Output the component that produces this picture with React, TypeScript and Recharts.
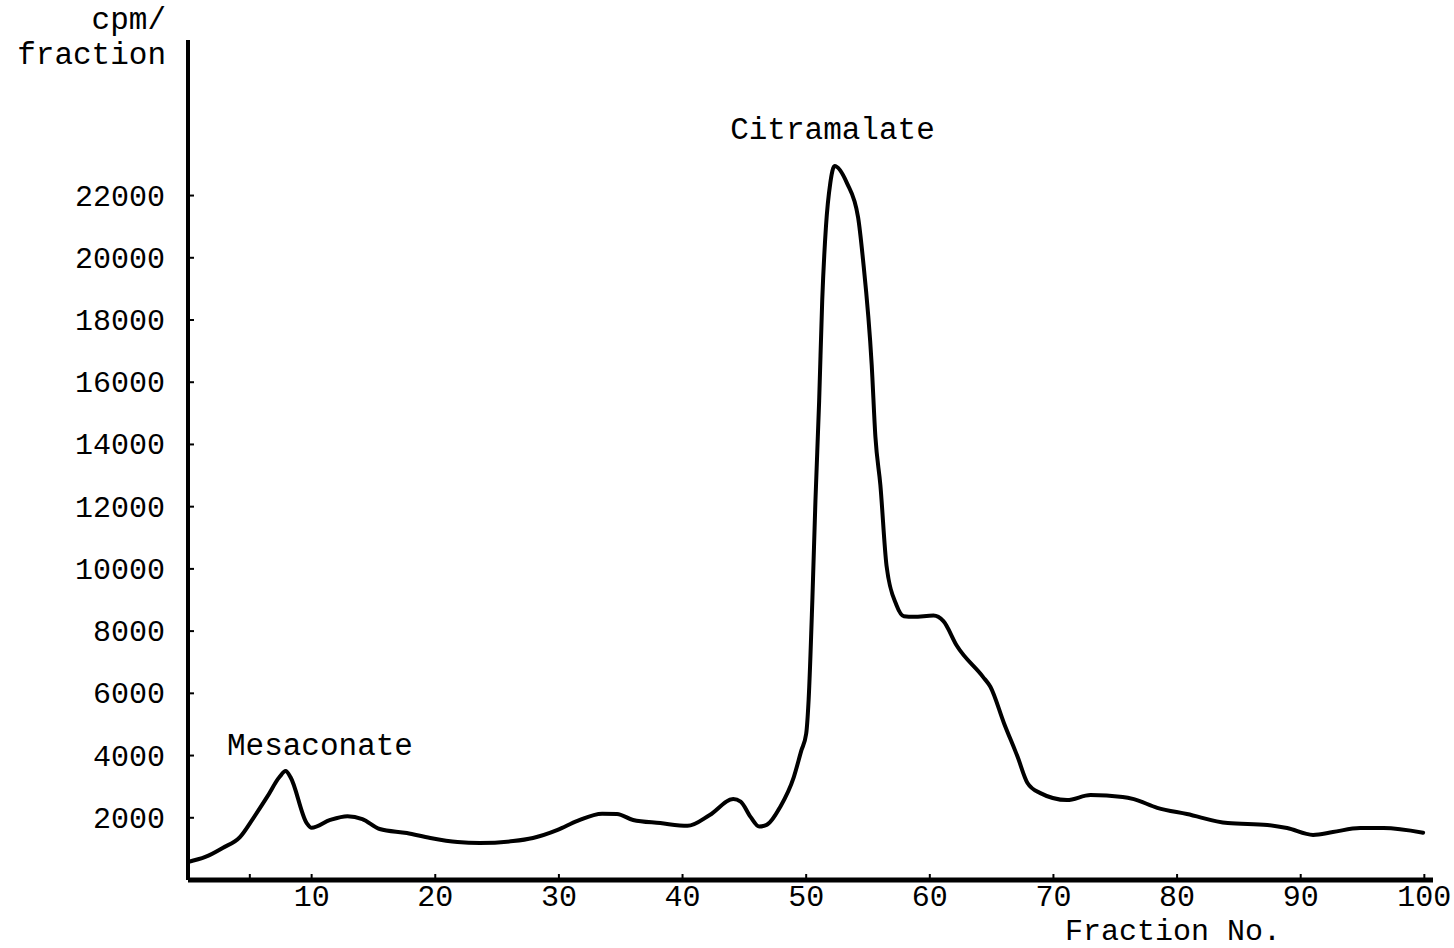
import React from "react";
import { LineChart, Line, XAxis, YAxis, ReferenceDot } from "recharts";

const fractions = [
  0, 1.4, 2.8, 4.2, 5.3, 6.4, 7.4, 7.9, 8.3, 9.6, 10.0, 11.5, 12.9, 14.1, 15.5, 17.7, 19.6,
  21.8, 23.6, 26.3, 27.9, 29.9, 31.5, 33.5, 34.7, 36.0, 38.2, 40.4, 42.2, 44.1, 44.7, 45.5,
  46.2, 46.8, 47.9, 49.0, 49.6, 50.0, 50.2, 50.5, 50.75, 51.05, 51.3, 51.6, 51.95, 52.3, 53.3,
  54.2, 54.6, 55.3, 55.6, 56.0, 56.5, 57.3, 57.9, 58.7, 60.3, 61.1, 62.2, 64.3, 64.9, 66.0,
  67.1, 67.9, 68.9, 71.1, 73.0, 75.6, 76.5, 78.4, 80.8, 84.1, 87.3, 88.9, 91.0, 92.6, 94.8,
  96.7, 99.9,
];
const cpm = [
  580, 740, 1030, 1380, 2000, 2670, 3310, 3500, 3300, 1830, 1680, 1930, 2050, 1960, 1640, 1510, 1350,
  1220, 1190, 1250, 1350, 1610, 1900, 2130, 2120, 1930, 1830, 1740, 2090, 2600, 2520, 2030,
  1720, 1770, 2350, 3310, 4150, 4700, 5800, 9000, 12200, 15400, 18650, 21000, 22400, 22950, 22400,
  21300, 19930, 16560, 14240, 12700, 10100, 8840, 8480, 8460, 8500, 8320, 7520, 6530, 6210, 5040,
  3960, 3120, 2800, 2570, 2730, 2670, 2600, 2320, 2120, 1830, 1770, 1670, 1450, 1540, 1670,
  1670, 1520,
];
const xTicks = [5, 10, 20, 30, 40, 50, 60, 70, 80, 90, 100];
const yTicks = [2000, 4000, 6000, 8000, 10000, 12000, 14000, 16000, 18000, 20000, 22000];
const peakLabels = [
  { name: "Mesaconate", fraction: 3.15, value: 4020 },
  { name: "Citramalate", fraction: 43.85, value: 23830 },
];
const yAxisTitle = ["cpm/", "fraction"];
const xAxisTitle = "Fraction No.";

const data = fractions.map((f, i) => ({ fraction: f, cpm: cpm[i] }));

const FONT = "'Liberation Mono', 'Courier New', monospace";

const XTick = (props: any) => {
  const { x, y, payload } = props;
  return (
    <g>
      <line x1={x} y1={y} x2={x} y2={y - 6} stroke="#000" strokeWidth={2} />
      {payload.value !== 5 && (
        <text x={x} y={y + 26} textAnchor="middle" fontFamily={FONT} fontSize={30} fill="#000">
          {payload.value}
        </text>
      )}
    </g>
  );
};

const YTick = (props: any) => {
  const { x, y, payload } = props;
  return (
    <g>
      <line x1={x} y1={y} x2={x + 6} y2={y} stroke="#000" strokeWidth={2} />
      <text x={x - 23} y={y + 10} textAnchor="end" fontFamily={FONT} fontSize={30} fill="#000">
        {payload.value}
      </text>
    </g>
  );
};

export default function App() {
  return (
    <div style={{ position: "absolute", left: 0, top: 0, width: 1454, height: 948, background: "#fff" }}>
      <LineChart width={1454} height={948} data={data} margin={{ top: 40, right: 21, bottom: 28, left: 0 }}>
        <XAxis
          dataKey="fraction"
          type="number"
          domain={[0, 100.7]}
          ticks={xTicks}
          tick={<XTick />}
          tickLine={false}
          tickSize={0}
          tickMargin={0}
          height={40}
          interval={0}
          axisLine={{ stroke: "#000", strokeWidth: 5 }}
          label={{
            content: (p: any) => (
              <text
                x={p.viewBox.x + 985}
                y={p.viewBox.y + 60}
                textAnchor="middle"
                fontFamily={FONT}
                fontSize={30}
                fill="#000"
              >
                {xAxisTitle}
              </text>
            ),
          }}
        />
        <YAxis
          type="number"
          domain={[0, 27000]}
          ticks={yTicks}
          tick={<YTick />}
          tickLine={false}
          tickSize={0}
          tickMargin={0}
          width={188}
          interval={0}
          axisLine={{ stroke: "#000", strokeWidth: 4 }}
          label={{
            content: (p: any) => (
              <g>
                <text x={166} y={p.viewBox.y - 11} textAnchor="end" fontFamily={FONT} fontSize={31} fill="#000">
                  {yAxisTitle[0]}
                </text>
                <text x={166} y={p.viewBox.y + 24} textAnchor="end" fontFamily={FONT} fontSize={31} fill="#000">
                  {yAxisTitle[1]}
                </text>
              </g>
            ),
          }}
        />
        <Line
          type="monotone"
          dataKey="cpm"
          stroke="#000"
          strokeWidth={4}
          dot={false}
          activeDot={false}
          isAnimationActive={false}
          strokeLinejoin="round"
          strokeLinecap="round"
        />
        {peakLabels.map((l) => (
          <ReferenceDot
            key={l.name}
            x={l.fraction}
            y={l.value}
            r={0}
            ifOverflow="visible"
            shape={(p: any) => (
              <text x={p.cx} y={p.cy} textAnchor="start" fontFamily={FONT} fontSize={31} fill="#000">
                {l.name}
              </text>
            )}
          />
        ))}
      </LineChart>
    </div>
  );
}
